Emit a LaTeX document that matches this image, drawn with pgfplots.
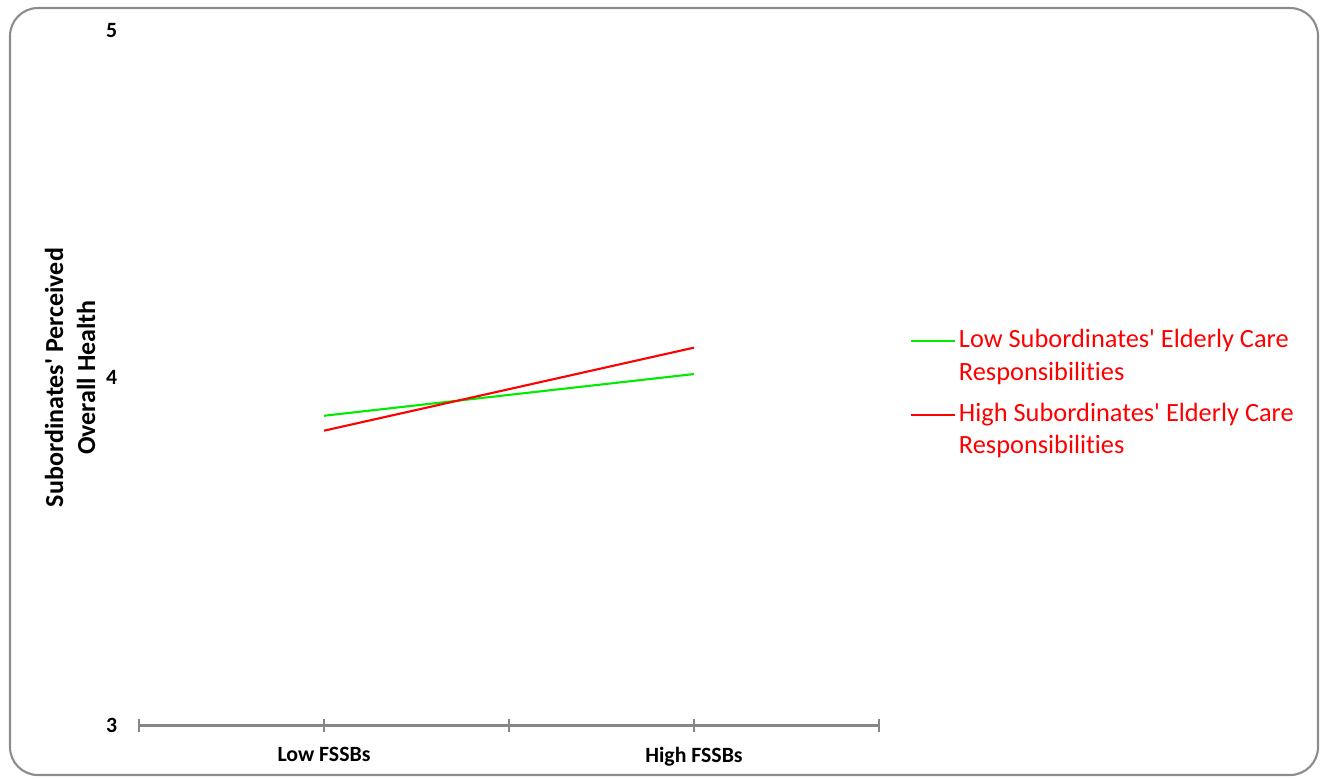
\documentclass[border=0pt]{standalone}
\usepackage{pgfplots}
\pgfplotsset{compat=1.18}
\usepackage{fontspec}
\setmainfont{Carlito}[Ligatures={TeX,NoCommon}]
\definecolor{axisgray}{RGB}{134,134,134}
\definecolor{framegray}{RGB}{140,140,140}
\definecolor{lgreen}{RGB}{0,235,0}
\newcommand{\twolines}[2]{\vtop{\hbox{#1}\hbox{#2}}}

\begin{document}
\begin{tikzpicture}
  \path[use as bounding box] (0,0) rectangle (13.2,7.78);
  \draw[framegray, line width=0.6pt, rounded corners=0.28cm] (0.10,0.03) rectangle (13.18,7.70);
  \begin{axis}[
      at={(1.39cm,0.53cm)}, anchor=south west,
      scale only axis,
      width=7.4cm, height=6.95cm,
      xmin=0, xmax=4, ymin=3, ymax=5,
      axis x line=bottom, axis y line=left,
      x axis line style={draw=axisgray, line width=0.85pt, -},
      y axis line style={draw=none},
      xtick={0,1,2,3,4},
      xticklabels={,Low FSSBs,,High FSSBs,},
      ytick={3,4,5},
      xtick style={draw=axisgray, line width=0.6pt},
      ytick style={draw=none},
      major tick length=0.13cm,
      xtick align=center,
      /pgf/number format/assume math mode=true,
      xticklabel style={font=\bfseries\fontsize{6.2}{7.5}\selectfont, yshift=-0.03cm},
      yticklabel style={font=\bfseries\fontsize{6.2}{7.5}\selectfont, xshift=-0.03cm},
      ylabel={Subordinates\textquotesingle{} Perceived\\Overall Health},
      every axis y label/.style={at={(axis description cs:-0.093,0.5)}, rotate=90, anchor=center,
        align=center, font=\bfseries\fontsize{7.4}{9.1}\selectfont},
      legend style={at={(axis description cs:1.041,0.58)}, anchor=north west,
        draw=none, fill=none, inner sep=0pt, row sep=0.36cm,
        nodes={inner xsep=0.8pt},
        font=\fontsize{7.5}{9.2}\selectfont, text=red},
      legend cell align=left,
      legend image code/.code={\draw[#1] (0cm,0cm) -- (0.44cm,0cm);},
    ]
    % Low elderly care
    \addplot[lgreen, line width=0.6pt] coordinates {
        (1, 3.89)
        (3, 4.01)
      };
    % High elderly care
    \addplot[red, line width=0.6pt] coordinates {
        (1, 3.847)
        (3, 4.086)
      };
    \legend{{\twolines{Low Subordinates\textquotesingle{} Elderly Care}{Responsibilities}},
      {\twolines{High Subordinates\textquotesingle{} Elderly Care}{Responsibilities}}}
  \end{axis}
\end{tikzpicture}
\end{document}
